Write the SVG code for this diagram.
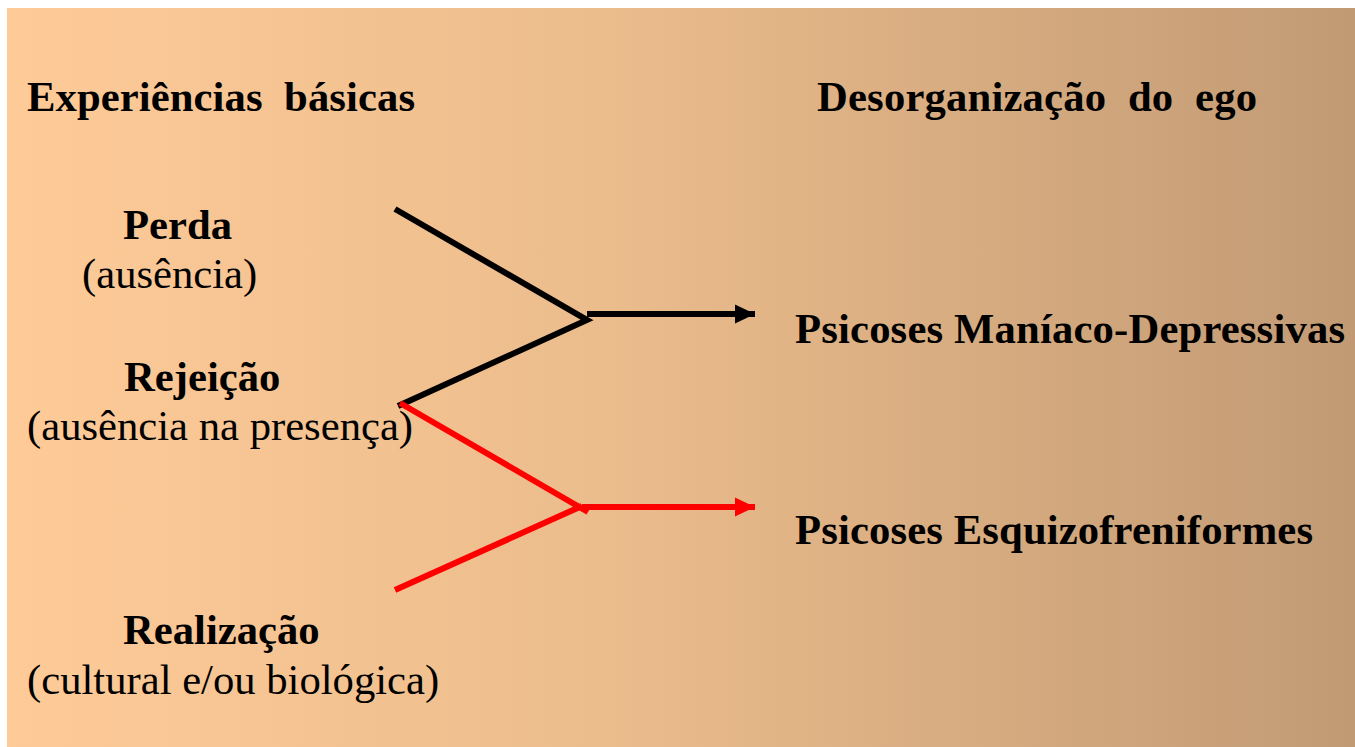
<svg xmlns="http://www.w3.org/2000/svg" width="1355" height="747" viewBox="0 0 1355 747">
  <style>
    .b { font-family: "Liberation Serif", "Times New Roman", serif; font-weight: bold; font-size: 42.67px; fill: #000; white-space: pre; }
    .r { font-family: "Liberation Serif", "Times New Roman", serif; font-weight: normal; font-size: 42.67px; fill: #000; white-space: pre; }
    .blk { stroke: #000; stroke-width: 6; fill: none; }
    .red { stroke: #FF0000; stroke-width: 6; fill: none; }
  </style>
  <defs>
    <linearGradient id="bg" x1="0" y1="0" x2="1" y2="0">
      <stop offset="0" stop-color="#FECB98"/>
      <stop offset="0.45" stop-color="#EBBC8C"/>
      <stop offset="1" stop-color="#C19A74"/>
    </linearGradient>
    <marker id="ahB" markerUnits="userSpaceOnUse" markerWidth="20" markerHeight="20" viewBox="0 0 20 20" refX="20" refY="10" orient="auto">
      <path d="M0,0.5 L20,10 L0,19.5 Z" fill="#000"/>
    </marker>
    <marker id="ahR" markerUnits="userSpaceOnUse" markerWidth="20" markerHeight="20" viewBox="0 0 20 20" refX="20" refY="10" orient="auto">
      <path d="M0,0.5 L20,10 L0,19.5 Z" fill="#FF0000"/>
    </marker>
  </defs>
  <rect x="0" y="0" width="1355" height="747" fill="#FFFFFF"/>
  <rect x="7" y="8" width="1348" height="739" fill="url(#bg)"/>

  <g id="connectors">
    <polyline class="blk" points="395,209 587,320 398,406"/>
    <line class="blk" x1="587" y1="314" x2="755" y2="314" marker-end="url(#ahB)"/>
    <polyline class="red" points="400,403 588,512"/>
    <line class="red" x1="395" y1="590" x2="582" y2="506"/>
    <line class="red" x1="582" y1="507" x2="755" y2="507" marker-end="url(#ahR)"/>
  </g>

  <g id="header-left"><text class="b" x="27" y="111" textLength="388" xml:space="preserve">Experiências  básicas</text></g>
  <g id="header-right"><text class="b" x="817" y="111" textLength="440" xml:space="preserve">Desorganização  do  ego</text></g>

  <g id="perda">
    <text class="b" x="123" y="239">Perda</text>
    <text class="r" x="82" y="288">(ausência)</text>
  </g>
  <g id="rejeicao">
    <text class="b" x="124" y="391">Rejeição</text>
    <text class="r" x="27" y="440">(ausência na presença)</text>
  </g>
  <g id="realizacao">
    <text class="b" x="123" y="644">Realização</text>
    <text class="r" x="27" y="694">(cultural e/ou biológica)</text>
  </g>
  <g id="psicoses-md"><text class="b" x="795" y="343" textLength="550">Psicoses Maníaco-Depressivas</text></g>
  <g id="psicoses-esq"><text class="b" x="795" y="544" textLength="518">Psicoses Esquizofreniformes</text></g>
</svg>
